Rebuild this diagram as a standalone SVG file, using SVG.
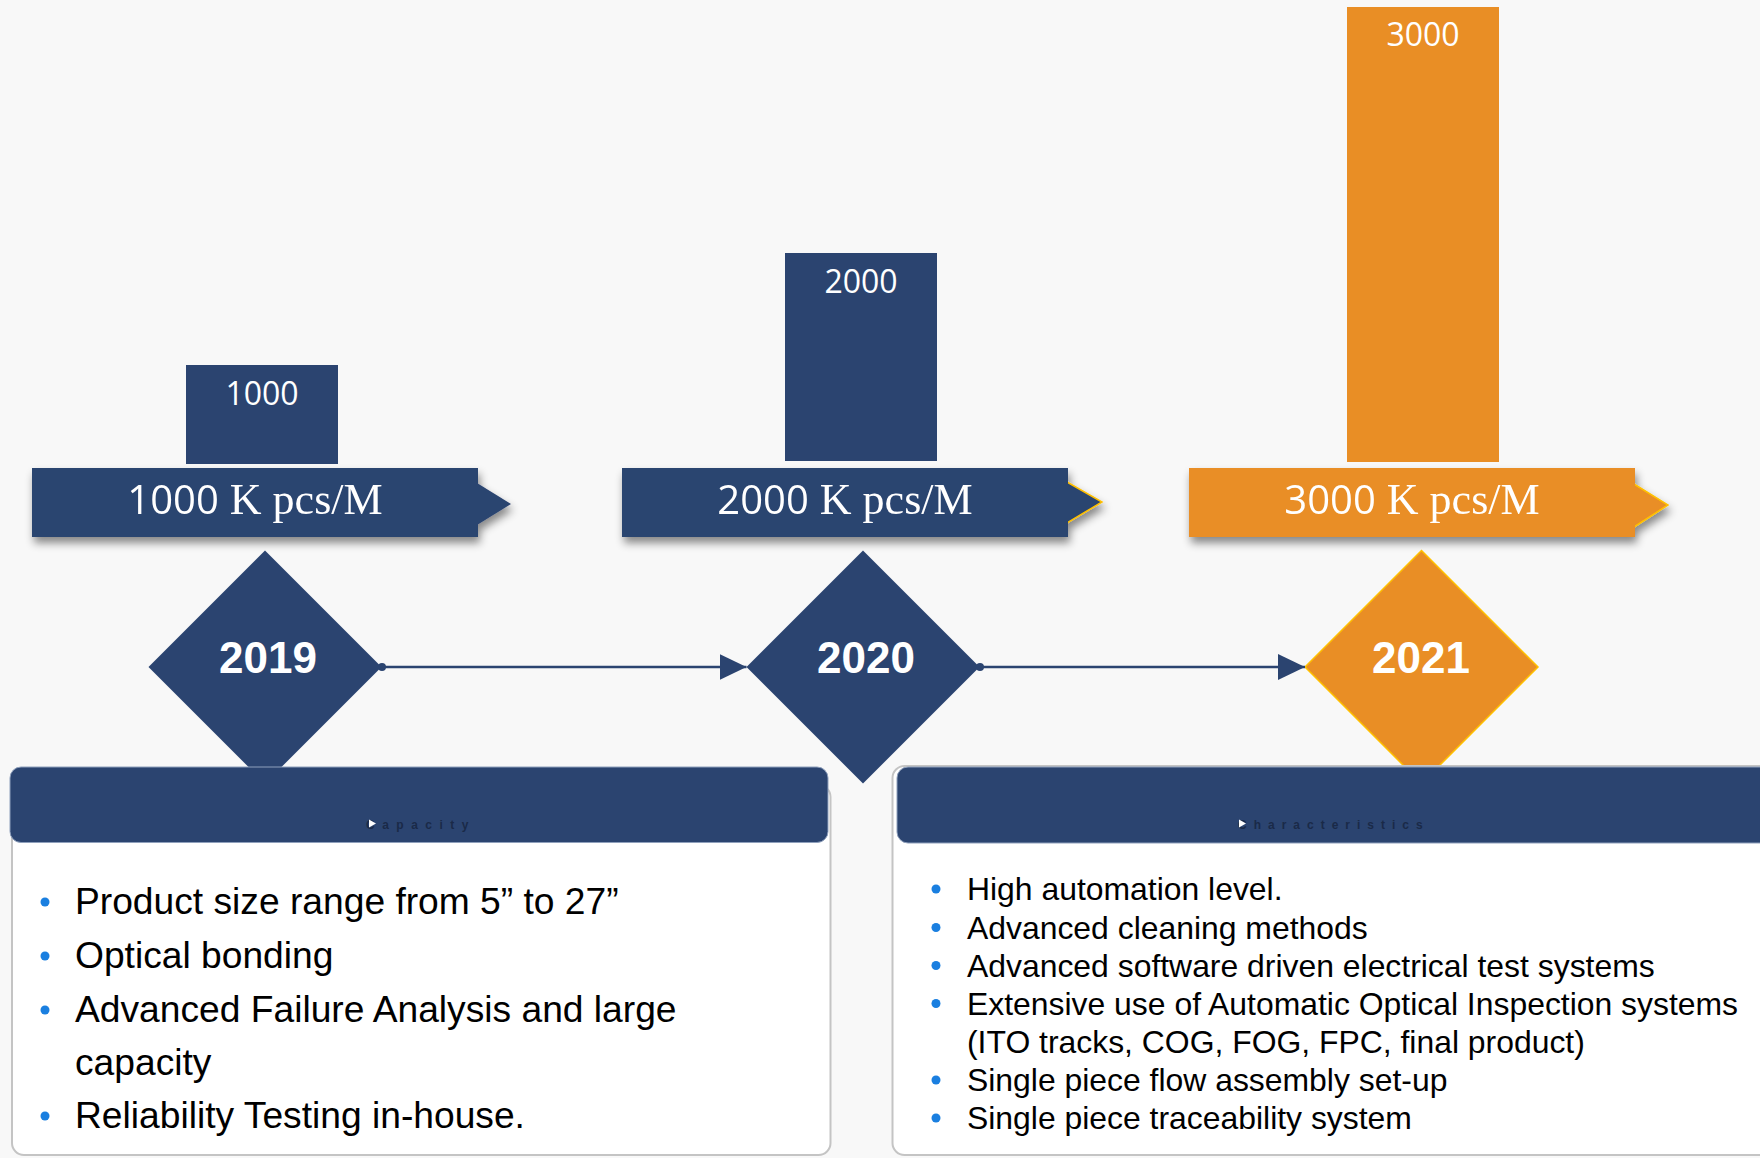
<svg xmlns="http://www.w3.org/2000/svg" width="1760" height="1158" viewBox="0 0 1760 1158">
<defs>
<style>
.navy{fill:#2B4470}
.orange{fill:#E98E25}
.ylw{stroke:#FFC000;stroke-width:1.5}
.barlbl{font-family:"Open Sans","Noto Sans",sans-serif;font-size:32px;fill:#fff;text-anchor:middle}
.bn{font-family:"Open Sans","Noto Sans",sans-serif;font-size:40px}
.bs{font-family:"Liberation Serif",serif;font-size:44px}
.bantxt{fill:#fff;text-anchor:middle}
.year{font-family:"Liberation Sans",Arial,sans-serif;font-weight:bold;font-size:44px;fill:#fff;text-anchor:middle}
.body{fill:#fff;stroke:#C4C4C4;stroke-width:2}
.hdr{fill:#2B4470;stroke:#8FA0BC;stroke-width:1}
.hid{font-family:"Liberation Sans",Arial,sans-serif;font-size:12px;font-weight:bold;fill:#1A2A48}
.l1{font-family:"Liberation Sans",Arial,sans-serif;font-size:37.2px;fill:#000}
.l2{font-family:"Liberation Sans",Arial,sans-serif;font-size:31.9px;fill:#000}
.dot{fill:#1A7FE0}
.conn{stroke:#2B4470;stroke-width:2.5;fill:none}
</style>
<filter id="sh" x="-10%" y="-30%" width="125%" height="180%">
<feDropShadow dx="2" dy="6" stdDeviation="4" flood-color="#000" flood-opacity="0.45"/>
</filter>
<marker id="ah" markerUnits="userSpaceOnUse" markerWidth="27" markerHeight="26" refX="27" refY="13" orient="auto">
<path d="M0,0 L27,13 L0,26 z" fill="#2B4470"/>
</marker>
<marker id="st" markerUnits="userSpaceOnUse" markerWidth="10" markerHeight="10" refX="5" refY="5" orient="auto">
<circle cx="5" cy="5" r="4" fill="#2B4470"/>
</marker>
</defs>
<rect x="0" y="0" width="1760" height="1158" fill="#F8F8F8"/>

<g id="bar-1000">
<rect class="navy" x="186" y="365" width="152" height="99"/>
<text class="barlbl" x="262" y="405">1000</text>
</g>
<g id="bar-2000">
<rect class="navy" x="785" y="253" width="152" height="208"/>
<text class="barlbl" x="861" y="293">2000</text>
</g>
<g id="bar-3000">
<rect class="orange" x="1347" y="7" width="152" height="455"/>
<text class="barlbl" x="1423" y="46">3000</text>
</g>

<g id="banner-1000" filter="url(#sh)">
<rect class="navy" x="32" y="468" width="446" height="69"/>
<path class="navy" d="M477,483 L511,504 L477,525 z"/>
<text class="bantxt" x="255" y="514"><tspan class="bn">1000</tspan><tspan class="bs"> K pcs/M</tspan></text>
</g>
<g id="banner-2000" filter="url(#sh)">
<path class="navy ylw" d="M1067,482 L1102,502 L1067,523 z"/>
<rect class="navy" x="622" y="468" width="446" height="69"/>
<text class="bantxt" x="845" y="514"><tspan class="bn">2000</tspan><tspan class="bs"> K pcs/M</tspan></text>
</g>
<g id="banner-3000" filter="url(#sh)">
<path class="orange ylw" d="M1634,484 L1668,505 L1634,527 z"/>
<rect class="orange" x="1189" y="468" width="446" height="69"/>
<text class="bantxt" x="1412" y="514"><tspan class="bn">3000</tspan><tspan class="bs"> K pcs/M</tspan></text>
</g>

<g id="diamond-2019">
<path class="navy" d="M265,550.5 L381.5,667 L265,783.5 L148.5,667 z"/>
<text class="year" x="268" y="673">2019</text>
</g>
<g id="diamond-2020">
<path class="navy" d="M863,550.5 L979.5,667 L863,783.5 L746.5,667 z"/>
<text class="year" x="866" y="673">2020</text>
</g>
<g id="diamond-2021">
<path class="orange ylw" d="M1421.5,550.5 L1538,667 L1421.5,783.5 L1305,667 z"/>
<text class="year" x="1421" y="673">2021</text>
</g>

<g id="connectors">
<line class="conn" x1="382" y1="667" x2="746.5" y2="667" marker-start="url(#st)" marker-end="url(#ah)"/>
<line class="conn" x1="980" y1="667" x2="1305" y2="667" marker-start="url(#st)" marker-end="url(#ah)"/>
</g>

<g id="box-capacity">
<rect class="body" x="12" y="785" width="818.5" height="370" rx="12"/>
<rect class="hdr" x="10" y="767" width="818" height="75.5" rx="11"/>
<text class="hid" x="366" y="829" letter-spacing="7.5">Capacity</text>
<path d="M369,819.5 L376,823.5 L369,827.5 z" fill="#fff"/>
<circle class="dot" cx="45" cy="902" r="4.5"/>
<text class="l1" x="75" y="914">Product size range from 5” to 27”</text>
<circle class="dot" cx="45" cy="956" r="4.5"/>
<text class="l1" x="75" y="968">Optical bonding</text>
<circle class="dot" cx="45" cy="1010" r="4.5"/>
<text class="l1" x="75" y="1022">Advanced Failure Analysis and large</text>
<text class="l1" x="75" y="1075">capacity</text>
<circle class="dot" cx="45" cy="1116" r="4.5"/>
<text class="l1" x="75" y="1128">Reliability Testing in-house.</text>
</g>

<g id="box-characteristics">
<rect class="body" x="892.5" y="766" width="900" height="389" rx="12"/>
<rect class="hdr" x="897" y="767" width="900" height="76" rx="11"/>
<text class="hid" x="1238" y="829" letter-spacing="7">Characteristics</text>
<path d="M1239,819.5 L1246,823.5 L1239,827.5 z" fill="#fff"/>
<circle class="dot" cx="936" cy="889" r="4.5"/>
<text class="l2" x="967" y="900">High automation level.</text>
<circle class="dot" cx="936" cy="927.5" r="4.5"/>
<text class="l2" x="967" y="938.5">Advanced cleaning methods</text>
<circle class="dot" cx="936" cy="965.5" r="4.5"/>
<text class="l2" x="967" y="976.5">Advanced software driven electrical test systems</text>
<circle class="dot" cx="936" cy="1003.5" r="4.5"/>
<text class="l2" x="967" y="1014.5">Extensive use of Automatic Optical Inspection systems</text>
<text class="l2" x="967" y="1052.5">(ITO tracks, COG, FOG, FPC, final product)</text>
<circle class="dot" cx="936" cy="1080" r="4.5"/>
<text class="l2" x="967" y="1091">Single piece flow assembly set-up</text>
<circle class="dot" cx="936" cy="1118" r="4.5"/>
<text class="l2" x="967" y="1129">Single piece traceability system</text>
</g>
</svg>
